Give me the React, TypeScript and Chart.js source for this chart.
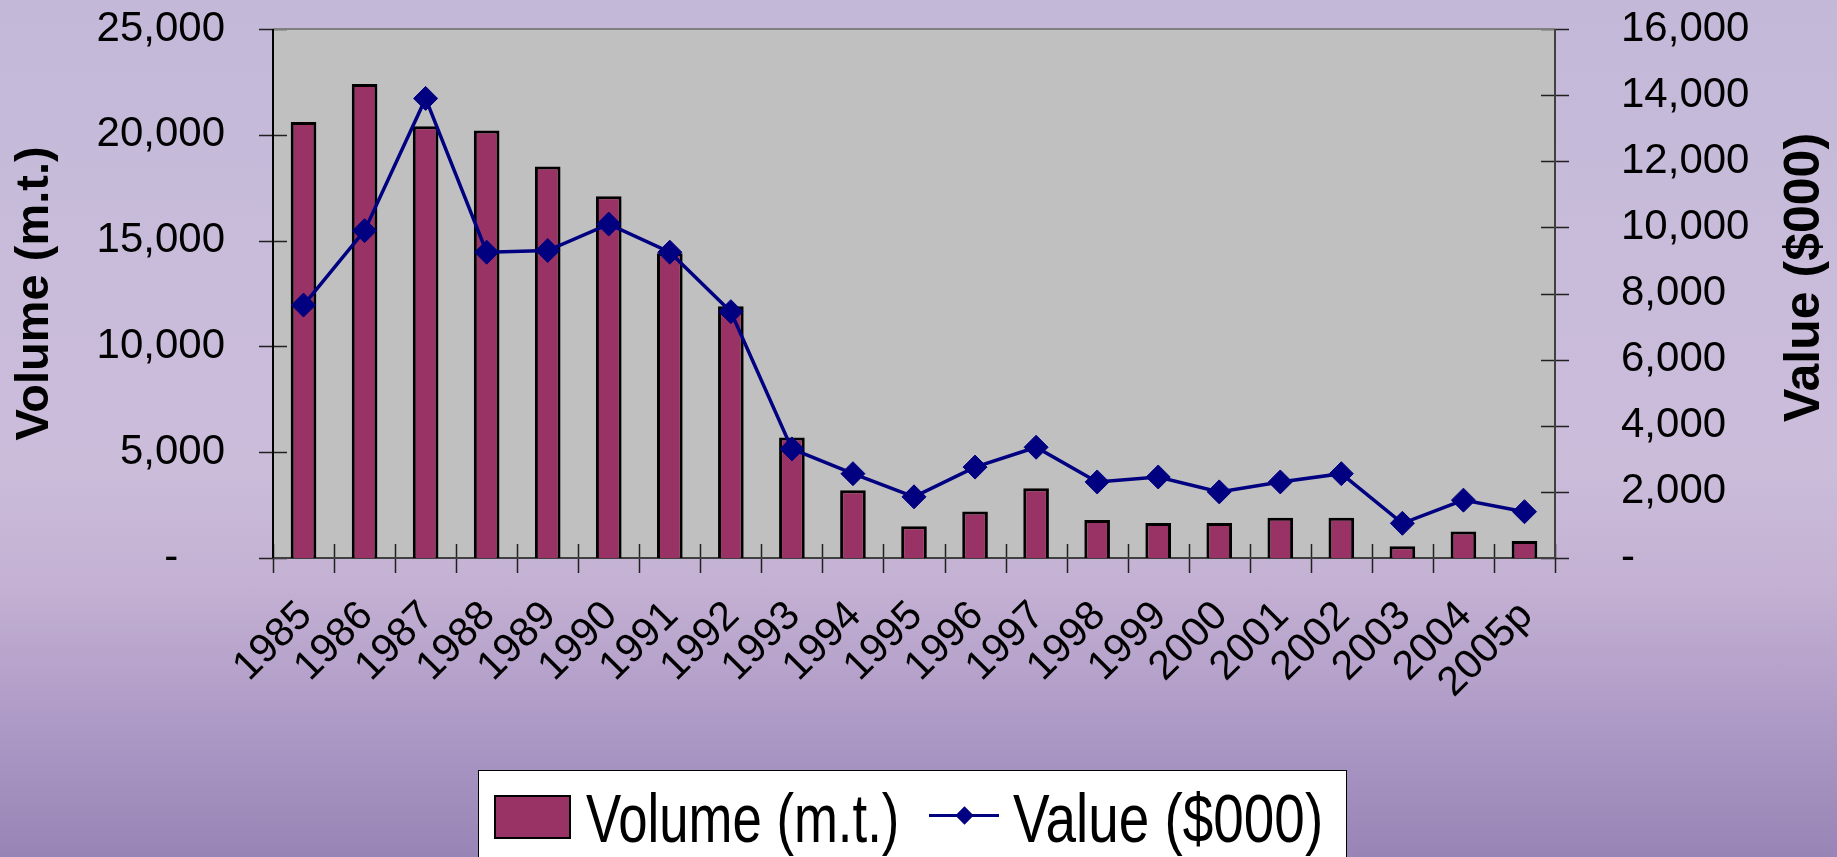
import React, { useEffect, useRef } from 'react';
import { Chart, registerables } from 'chart.js';

Chart.register(...registerables);

const categories = ['1985', '1986', '1987', '1988', '1989', '1990', '1991', '1992', '1993', '1994', '1995', '1996', '1997', '1998', '1999', '2000', '2001', '2002', '2003', '2004', '2005p'];
const volumeData = [20600, 22400, 20400, 20200, 18500, 17100, 14400, 11900, 5700, 3200, 1500, 2200, 3300, 1800, 1650, 1650, 1900, 1900, 550, 1250, 800];
const valueData = [7650, 9900, 13900, 9250, 9300, 10100, 9250, 7450, 3300, 2550, 1850, 2750, 3350, 2300, 2450, 2000, 2300, 2550, 1050, 1750, 1400];
const volumeAxisMax = 25000;
const volumeAxisStep = 5000;
const valueAxisMax = 16000;
const valueAxisStep = 2000;
const volumeLabel = 'Volume (m.t.)';
const valueLabel = 'Value ($000)';

const W = 1837;
const H = 857;
const FONT = '"Liberation Sans", Arial, Helvetica, sans-serif';
const BAR_COLOR = '#993366';
const LINE_COLOR = '#000080';

const fmt = (v: number) => (v === 0 ? '-    ' : Number(v).toLocaleString('en-US'));

const framePlugin = {
  id: 'frame',
  beforeDatasetsDraw(chart: any) {
    const { ctx, chartArea } = chart;
    const { left, right, top, bottom } = chartArea;
    ctx.save();
    ctx.fillStyle = '#C0C0C0';
    ctx.fillRect(left, top, right - left, bottom - top);
    ctx.strokeStyle = '#202020';
    ctx.lineWidth = 1.5;
    const y = chart.scales.y;
    const y1 = chart.scales.y1;
    const x = chart.scales.x;
    ctx.beginPath();
    y.ticks.forEach((t: any) => {
      const p = Math.round(y.getPixelForValue(t.value)) + 0.5;
      ctx.moveTo(left - 14, p);
      ctx.lineTo(left + 14, p);
    });
    y1.ticks.forEach((t: any) => {
      const p = Math.round(y1.getPixelForValue(t.value)) + 0.5;
      ctx.moveTo(right - 14, p);
      ctx.lineTo(right + 14, p);
    });
    const n = categories.length;
    for (let i = 0; i <= n; i++) {
      const px = Math.round(x.left + (i * (x.right - x.left)) / n) + 0.5;
      ctx.moveTo(px, bottom - 14);
      ctx.lineTo(px, bottom + 15);
    }
    ctx.stroke();
    ctx.lineWidth = 2;
    ctx.strokeStyle = '#808080';
    ctx.beginPath();
    ctx.moveTo(left, top);
    ctx.lineTo(right, top);
    ctx.stroke();
    ctx.strokeStyle = '#404040';
    ctx.beginPath();
    ctx.moveTo(left, bottom);
    ctx.lineTo(right, bottom);
    ctx.moveTo(right, top);
    ctx.lineTo(right, bottom);
    ctx.stroke();
    ctx.strokeStyle = '#000000';
    ctx.beginPath();
    ctx.moveTo(left, top);
    ctx.lineTo(left, bottom);
    ctx.stroke();
    ctx.restore();
  },
};

const rightTitlePlugin = {
  id: 'rightTitle',
  afterDraw(chart: any) {
    const { ctx } = chart;
    const s = chart.scales.y1;
    ctx.save();
    ctx.translate(s.right - 32, (chart.chartArea.top + chart.chartArea.bottom) / 2 - 16);
    ctx.rotate(-Math.PI / 2);
    ctx.font = 'bold 50px ' + FONT;
    ctx.fillStyle = '#000';
    ctx.textAlign = 'center';
    ctx.textBaseline = 'middle';
    ctx.fillText(valueLabel, 0, 0);
    ctx.restore();
  },
};

const trimPadding = (s: any) => {
  s.paddingTop = 25;
  s.paddingBottom = 25;
};

function ChartCanvas() {
  const ref = useRef<HTMLCanvasElement | null>(null);
  useEffect(() => {
    if (!ref.current) return;
    Chart.defaults.font.family = FONT;
    const chart = new Chart(ref.current, {
      type: 'bar',
      data: {
        labels: categories,
        datasets: [
          {
            type: 'line',
            label: valueLabel,
            data: valueData,
            yAxisID: 'y1',
            borderColor: LINE_COLOR,
            backgroundColor: LINE_COLOR,
            borderWidth: 3.5,
            pointStyle: 'rectRot',
            pointRadius: 12,
            pointBorderWidth: 1,
            pointBackgroundColor: LINE_COLOR,
            pointBorderColor: LINE_COLOR,
            tension: 0,
            order: 0,
          } as any,
          {
            type: 'bar',
            label: volumeLabel,
            data: volumeData,
            yAxisID: 'y',
            backgroundColor: BAR_COLOR,
            borderColor: '#000000',
            borderWidth: 3,
            barPercentage: 0.42,
            categoryPercentage: 1,
            order: 1,
          },
        ],
      },
      options: {
        responsive: false,
        animation: false,
        devicePixelRatio: 1,
        layout: { padding: { top: 29, left: 0, right: 0, bottom: 0 } },
        plugins: { legend: { display: false }, tooltip: { enabled: false } },
        scales: {
          x: {
            offset: true,
            grid: { display: false },
            border: { display: false },
            ticks: {
              color: '#000',
              font: { size: 41 },
              maxRotation: 45,
              minRotation: 45,
              autoSkip: false,
              labelOffset: 2,
              padding: 26,
            },
            afterFit: (s: any) => {
              s.height = 299;
            },
          },
          y: {
            position: 'left',
            min: 0,
            max: volumeAxisMax,
            grid: { display: false },
            border: { display: false },
            ticks: {
              stepSize: volumeAxisStep,
              color: '#000',
              font: { size: 42 },
              padding: 40,
              callback: (v: any) => fmt(Number(v)),
            },
            title: {
              display: true,
              text: volumeLabel,
              color: '#000',
              font: { size: 47, weight: 'bold', lineHeight: 1 },
              padding: { top: 12, bottom: 0 },
            },
            afterFit: (s: any) => {
              s.width = 273;
              trimPadding(s);
            },
          },
          y1: {
            position: 'right',
            min: 0,
            max: valueAxisMax,
            grid: { display: false },
            border: { display: false },
            ticks: {
              stepSize: valueAxisStep,
              color: '#000',
              font: { size: 42 },
              padding: 58,
              callback: (v: any) => fmt(Number(v)),
            },
            afterFit: (s: any) => {
              s.width = 282;
              trimPadding(s);
            },
          },
        },
      } as any,
      plugins: [framePlugin, rightTitlePlugin],
    });
    return () => chart.destroy();
  }, []);
  return <canvas ref={ref} width={W} height={H} style={{ position: 'absolute', left: 0, top: 0, width: W, height: H }} />;
}

export default function App() {
  const textStyle: React.CSSProperties = {
    position: 'absolute',
    fontFamily: FONT,
    fontSize: 68,
    lineHeight: '68px',
    whiteSpace: 'nowrap',
    color: '#000',
    transformOrigin: '0 0',
  };
  return (
    <div
      style={{
        position: 'fixed',
        left: 0,
        top: 0,
        width: W,
        height: H,
        overflow: 'hidden',
        background:
          'linear-gradient(180deg, #c3b8d8 0%, #c8bcda 30%, #cbbcda 55%, #c4b1d3 68%, #ae9ac6 84%, #9885b6 100%)',
      }}
    >
      <ChartCanvas />
      <div
        style={{
          position: 'absolute',
          left: 478,
          top: 770,
          width: 869,
          height: 120,
          boxSizing: 'border-box',
          background: '#ffffff',
          border: '1.5px solid #000',
        }}
      />
      <div
        style={{
          position: 'absolute',
          left: 494,
          top: 795,
          width: 77,
          height: 44,
          boxSizing: 'border-box',
          background: BAR_COLOR,
          border: '2px solid #000',
        }}
      />
      <span style={{ ...textStyle, left: 586, top: 784, transform: 'scaleX(0.775)' }}>{volumeLabel}</span>
      <div style={{ position: 'absolute', left: 929, top: 814, width: 70, height: 3, background: LINE_COLOR }} />
      <div
        style={{
          position: 'absolute',
          left: 964 - 6.5,
          top: 815.5 - 6.5,
          width: 13,
          height: 13,
          background: LINE_COLOR,
          transform: 'rotate(45deg)',
        }}
      />
      <span style={{ ...textStyle, left: 1013, top: 784, transform: 'scaleX(0.807)' }}>{valueLabel}</span>
    </div>
  );
}
